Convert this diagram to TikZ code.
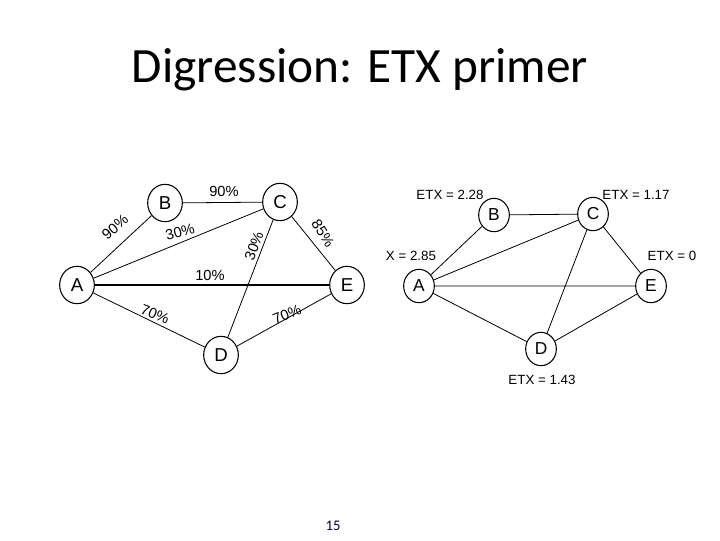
\documentclass[tikz,border=0pt]{standalone}
\usepackage{fontspec}
\usetikzlibrary{shapes.geometric}
\setmainfont{Carlito}
\newfontfamily\hel{Liberation Sans}
\begin{document}
\begin{tikzpicture}[x=0.75pt,y=-0.75pt,
  vtx/.style={draw,ellipse,minimum width=26pt,minimum height=28pt,inner sep=0pt,font=\hel\fontsize{14}{14}\selectfont,line width=0.8pt},
  vtxr/.style={vtx,minimum width=23pt,minimum height=25pt,font=\hel\fontsize{13}{13}\selectfont},
  lbl/.style={font=\hel\fontsize{11}{11}\selectfont,inner sep=0pt},
  edge/.style={line width=0.6pt}]
\fill[white] (0,0) rectangle (720,540);
\node[font=\fontsize{37}{37}\selectfont] (title) at (360,70) {Digression: ETX primer};
\node[font=\fontsize{11}{11}\selectfont,text=black!70!blue] (pg) at (333,526) {15};
% left
\node[vtx] (A) at (77,285) {A};
\node[vtx] (B) at (165,203) {B};
\node[vtx] (C) at (280,202) {C};
\node[vtx] (E) at (347,285) {E};
\node[vtx] (D) at (221,355) {D};
\draw[edge] (B)--(C) (A)--(B) (A)--(C) (C)--(D) (C)--(E) (A)--(D) (D)--(E);
\draw[line width=1.5pt] (A)--(E);
\node[lbl] (l1) at (224,191) {90\%};
\node[lbl,rotate=40] (l2) at (115,227) {90\%};
\node[lbl,rotate=15] (l3) at (180,232) {30\%};
\node[lbl,rotate=70] (l4) at (254,246) {30\%};
\node[lbl,rotate=-58] (l5) at (323,233) {85\%};
\node[lbl] (l6) at (210,275) {10\%};
\node[lbl,rotate=-22] (l7) at (155,314) {70\%};
\node[lbl,rotate=22] (l8) at (287,314) {70\%};
% right
\node[vtxr] (rA) at (419,286) {A};
\node[vtxr] (rB) at (494,215) {B};
\node[vtxr] (rC) at (593,214) {C};
\node[vtxr] (rE) at (651,286) {E};
\node[vtxr] (rD) at (541,349) {D};
\draw[edge] (rB)--(rC) (rA)--(rB) (rA)--(rC) (rC)--(rD) (rC)--(rE) (rA)--(rD) (rD)--(rE) (rA)--(rE);
\node[lbl,font=\hel\fontsize{10}{10}\selectfont] (e1) at (450,195) {ETX = 2.28};
\node[lbl,font=\hel\fontsize{10}{10}\selectfont] (e2) at (636,195) {ETX = 1.17};
\node[lbl,font=\hel\fontsize{10}{10}\selectfont] (e3) at (411,256) {X = 2.85};
\node[lbl,font=\hel\fontsize{10}{10}\selectfont] (e4) at (672,256) {ETX = 0};
\node[lbl,font=\hel\fontsize{10}{10}\selectfont] (e5) at (542,380) {ETX = 1.43};
\end{tikzpicture}
\end{document}
